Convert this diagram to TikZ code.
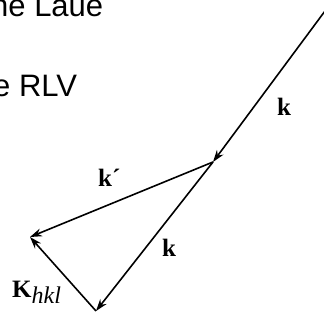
\documentclass[tikz,border=0pt]{standalone}
\usepackage{fontspec}
\setmainfont{Liberation Serif}
\newfontfamily\slidefont{Liberation Sans}
\usetikzlibrary{arrows.meta}
\tikzset{
  % wave vectors of the construction
  vec/.style={-{Stealth[length=12pt,width=8pt]}, line width=1.6pt},
  % vector labels (bold serif)
  lbl/.style={font=\fontsize{25}{25}\selectfont\bfseries, inner sep=0pt, anchor=base west},
  % slide text, cut by the page edge
  slide/.style={font=\slidefont\fontsize{31}{31}\selectfont, anchor=base west, inner sep=0pt},
}
\begin{document}
\begin{tikzpicture}[x=1pt,y=-1pt]
\useasboundingbox (0,0) rectangle (324,320);

% ── slide text (clipped at the left / top) ──────────────────────────
\node[slide] (laue) at (-9,17) {he Laue};
\node[slide] (rlv) at (-7,97) {e RLV};

% ── corners of the scattering triangle ──────────────────────────────
\coordinate (src) at (325,11);
\coordinate (tip) at (213,162);
\coordinate (kout) at (30,237);
\coordinate (base) at (96,311);

\draw[vec] (src) -- (tip);
\draw[vec] (tip) -- (kout);
\draw[vec] (tip) -- (base);
\draw[vec] (base) -- (kout);

% ── labels ──────────────────────────────────────────────────────────
\node[lbl] (kin) at (277,116) {k};
\node[lbl] (kpr) at (98,187) {k´};
\node[lbl] (kdn) at (162,257) {k};
\node[lbl] (Khkl) at (12,298) {K\raisebox{-6pt}{\fontsize{24}{24}\selectfont\mdseries\itshape hkl}};

\end{tikzpicture}
\end{document}
